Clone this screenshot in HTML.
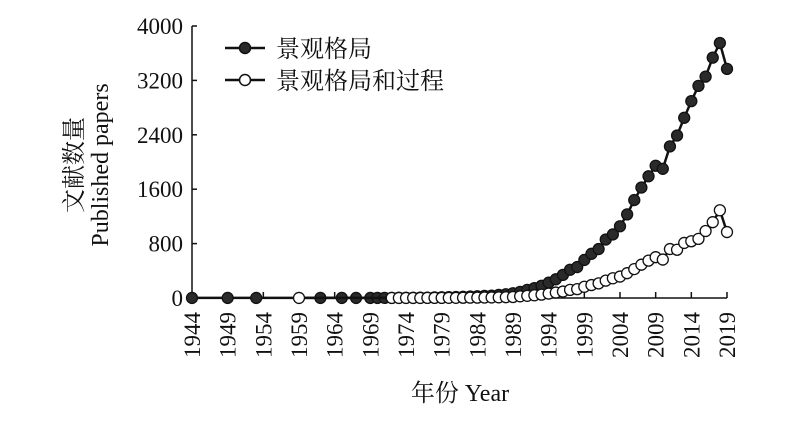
<!DOCTYPE html>
<html><head><meta charset="utf-8"><style>
body{margin:0;background:#fff}
svg text{font-family:"Liberation Serif","Noto Serif CJK SC",serif;fill:#111}
</style></head><body>
<svg id="chart" width="800" height="423" viewBox="0 0 800 423" xmlns="http://www.w3.org/2000/svg">
<g id="axes"></g><g id="series"></g>
<g>
<g>
<line x1="225" y1="48" x2="265" y2="48" stroke="#111" stroke-width="2.5"/>
<circle cx="245" cy="48" r="5.5" fill="#2a2a2a" stroke="#111" stroke-width="1.5"/>
<text x="276" y="57" font-size="24" font-family="Noto Sans CJK SC, sans-serif">景观格局</text></g>
<g>
<line x1="225" y1="80" x2="265" y2="80" stroke="#111" stroke-width="2.5"/>
<circle cx="245" cy="80" r="5.5" fill="#fff" stroke="#111" stroke-width="1.5"/>
<text x="276" y="89" font-size="24" font-family="Noto Sans CJK SC, sans-serif">景观格局和过程</text></g>
</g>
<text transform="translate(82,165) rotate(-90)" text-anchor="middle" font-size="24">文献数量</text>
<text transform="translate(108,165) rotate(-90)" text-anchor="middle" font-size="24">Published papers</text>
<text x="460" y="401" text-anchor="middle" font-size="24">年份 Year</text>
</svg>
<script>
const yTicks=[0,800,1600,2400,3200,4000];
const xTicks=[1944,1949,1954,1959,1964,1969,1974,1979,1984,1989,1994,1999,2004,2009,2014,2019];
const patternYears=[1944,1949,1953,1962,1965,1967,1969,1970,1971,1972,1973,1974,1975,1976,1977,1978,1979,1980,1981,1982,1983,1984,1985,1986,1987,1988,1989,1990,1991,1992,1993,1994,1995,1996,1997,1998,1999,2000,2001,2002,2003,2004,2005,2006,2007,2008,2009,2010,2011,2012,2013,2014,2015,2016,2017,2018,2019];
const patternValues=[1,1,1,1,1,1,1,1,2,2,3,3,4,5,6,8,10,12,15,18,22,25,30,35,45,55,70,90,120,145,180,225,275,340,415,455,560,650,720,860,935,1055,1230,1440,1625,1790,1945,1900,2230,2390,2650,2895,3120,3255,3535,3750,3370];
const processYears=[1959,1972,1973,1974,1975,1976,1977,1978,1979,1980,1981,1982,1983,1984,1985,1986,1987,1988,1989,1990,1991,1992,1993,1994,1995,1996,1997,1998,1999,2000,2001,2002,2003,2004,2005,2006,2007,2008,2009,2010,2011,2012,2013,2014,2015,2016,2017,2018,2019];
const processValues=[1,1,1,1,1,1,2,2,2,3,3,4,5,6,7,8,10,12,15,25,32,40,50,65,80,95,120,130,165,190,215,255,290,315,365,425,490,550,600,565,720,710,810,835,870,985,1115,1290,970];
const NS='http://www.w3.org/2000/svg';
const x=y=>192+(y-1944)*(727-192)/75;
const yv=v=>298-v*272/4000;
function mk(tag,attrs,parent){const e=document.createElementNS(NS,tag);for(const k in attrs)e.setAttribute(k,attrs[k]);parent.appendChild(e);return e;}
const ax=document.getElementById('axes');
const yl=mk('line',{x1:192,y1:26,x2:192,y2:298,stroke:'#111','stroke-width':1.5},ax);


const xl=mk('line',{x1:192,y1:298,x2:727,y2:298,stroke:'#111','stroke-width':1.5},ax);


yTicks.forEach(v=>{
 mk('line',{x1:192,y1:yv(v),x2:197,y2:yv(v),stroke:'#111','stroke-width':1.5},ax);
 const t=mk('text',{x:183,y:yv(v)+8,'text-anchor':'end','font-size':23},ax);t.textContent=v;
 
 
});
xTicks.forEach(v=>{
 mk('line',{x1:x(v),y1:298,x2:x(v),y2:292,stroke:'#111','stroke-width':1.5},ax);
 const t=mk('text',{transform:`translate(${x(v)+8},312) rotate(-90)`,'text-anchor':'end','font-size':23},ax);t.textContent=v;
 
 
});
const sg=document.getElementById('series');
function draw(years,vals,fill,name){
 const g=mk('g',{},sg);
 
 
 const p=mk('polyline',{points:years.map((yr,i)=>x(yr)+','+yv(vals[i])).join(' '),fill:'none',stroke:'#111','stroke-width':2.5},g);
 
 
 years.forEach((yr,i)=>{
  const c=mk('circle',{cx:x(yr),cy:yv(vals[i]),r:5.5,fill:fill,stroke:'#111','stroke-width':1.3},g);
  
  
 });
}
draw(patternYears,patternValues,'#2a2a2a','series-landscape-pattern');
draw(processYears,processValues,'#fff','series-pattern-process');
</script>
</body></html>
